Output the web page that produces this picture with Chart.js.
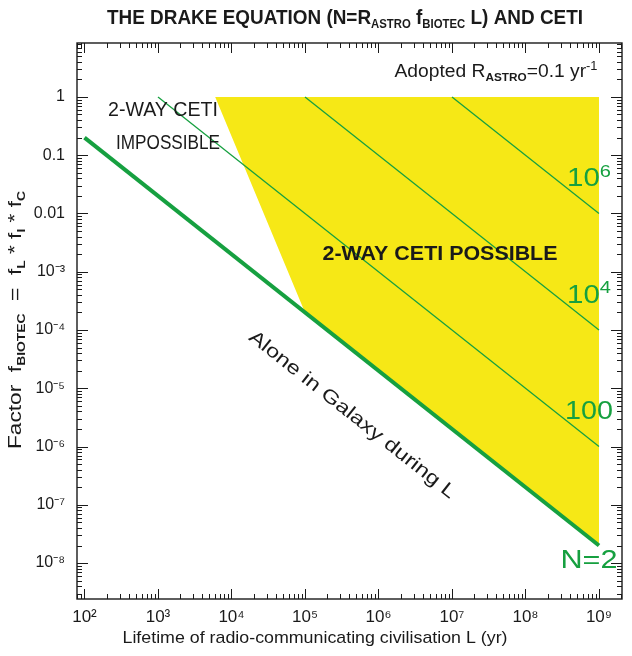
<!DOCTYPE html>
<html>
<head>
<meta charset="utf-8">
<script src="https://cdn.jsdelivr.net/npm/chart.js@4.4.0/dist/chart.umd.min.js"></script>
<style>html,body{margin:0;padding:0;background:#fff}</style>
</head>
<body>
<canvas id="drakeChart" width="632" height="656"></canvas>
<script>
// values: L in yr, f = fL * fI * fC
const xTickValues = [1e2, 1e3, 1e4, 1e5, 1e6, 1e7, 1e8, 1e9];
const xTickLabels = ['10²', '10³', '10⁴', '10⁵', '10⁶', '10⁷', '10⁸', '10⁹'];
const yTickValues = [1, 0.1, 0.01, 1e-3, 1e-4, 1e-5, 1e-6, 1e-7, 1e-8];
const yTickLabels = ['1', '0.1', '0.01', '10⁻³', '10⁻⁴', '10⁻⁵', '10⁻⁶', '10⁻⁷', '10⁻⁸'];

// constant-N lines (start and end points)
const lineNames = ['N=2', '100', '10⁴', '10⁶'];
const lineL = [[1e2, 1e9], [1e3, 1e9], [1e5, 1e9], [1e7, 1e9]];
const lineF = [[0.2, 2e-8], [1, 1e-6], [1, 1e-4], [1, 1e-2]];

// yellow "2-way CETI possible" region
const cetiL = [6e3, 1e9, 1e9, 1e5, 6e3];
const cetiF = [1, 1, 2e-8, 2e-4, 1];

const FONT = "'Liberation Sans', Arial, sans-serif";
const GREEN = '#16a040';
const YELLOW = '#f6e816';
const INK = '#1a1a1a';

const ctx = document.getElementById('drakeChart').getContext('2d');

const toPts = (xs, ys) => xs.map((v, i) => ({x: v, y: ys[i]}));

function logTicks(scale) {
    const ticks = [];
    const lo = Math.floor(Math.log10(scale.min));
    const hi = Math.ceil(Math.log10(scale.max));
    for (let e = lo; e <= hi; e++) {
        for (let m = 1; m <= 9; m++) {
            const v = m * Math.pow(10, e);
            if (v >= scale.min && v <= scale.max) ticks.push({value: v, major: m === 1});
        }
    }
    scale.ticks = ticks;
}

const labelFor = (values, labels) => (v) => {
    const i = values.findIndex(t => Math.abs(Math.log10(t) - Math.log10(v)) < 1e-6);
    return i < 0 ? '' : labels[i];
};

// text with sub/superscripts: parts = [[text, 0 normal | 1 sub | 2 sup], ...]
function drawRich(c, parts, x, y, size, opts = {}) {
    const weight = opts.weight || 'normal';
    const fontOf = k => k === 0 ? `${weight} ${size}px ${FONT}`
        : k === 1 ? `bold ${Math.round(size * 0.6)}px ${FONT}`
        : `${Math.round(size * 0.66)}px ${FONT}`;
    let w = 0;
    parts.forEach(([t, k]) => { c.font = fontOf(k); w += c.measureText(t).width; });
    const sx = opts.width ? opts.width / w : 1;
    c.save();
    c.translate(x, y);
    if (opts.rotate) c.rotate(opts.rotate);
    c.scale(sx, 1);
    c.fillStyle = opts.color || INK;
    c.textBaseline = 'middle';
    c.textAlign = 'left';
    let px = -w / 2;
    parts.forEach(([t, k]) => {
        c.font = fontOf(k);
        const dy = k === 1 ? size * 0.34 : k === 2 ? -size * 0.3 : 0;
        c.fillText(t, px, dy);
        px += c.measureText(t).width;
    });
    c.restore();
}

const frameAndText = {
    id: 'frameAndText',
    afterDraw(chart) {
        const c = chart.ctx;
        const a = chart.chartArea;
        const {x, y} = chart.scales;

        // frame with inward ticks on all four sides
        c.save();
        c.strokeStyle = INK;
        c.lineWidth = 1.4;
        c.strokeRect(a.left, a.top, a.right - a.left, a.bottom - a.top);
        c.lineWidth = 1;
        c.beginPath();
        x.ticks.forEach(t => {
            const px = Math.round(x.getPixelForValue(t.value)) + 0.5;
            const len = t.major ? 10 : 5;
            c.moveTo(px, a.bottom); c.lineTo(px, a.bottom - len);
            c.moveTo(px, a.top); c.lineTo(px, a.top + len);
        });
        y.ticks.forEach(t => {
            const py = Math.round(y.getPixelForValue(t.value)) + 0.5;
            const len = t.major ? 11 : 5;
            c.moveTo(a.left, py); c.lineTo(a.left + len, py);
            c.moveTo(a.right, py); c.lineTo(a.right - len, py);
        });
        c.stroke();
        c.restore();

        // titles
        drawRich(c, [['THE DRAKE EQUATION (N=R', 0], ['ASTRO', 1], [' f', 0], ['BIOTEC', 1], [' L) AND CETI', 0]],
            345, 18, 20, {weight: 'bold', width: 476});
        drawRich(c, [['Lifetime of radio-communicating civilisation L (yr)', 0]], 315, 638, 17, {width: 385});
        drawRich(c, [['Factor  f', 0], ['BIOTEC', 1], ['  =  f', 0], ['L', 1], [' * f', 0], ['I', 1], [' * f', 0], ['C', 1]],
            16, 320, 18, {rotate: -Math.PI / 2, width: 258});
        drawRich(c, [['Adopted R', 0], ['ASTRO', 1], ['=0.1 yr', 0], ['-1', 2]], 496, 72, 18, {width: 203});

        // region labels
        drawRich(c, [['2-WAY CETI', 0]], 163, 110, 20, {width: 110});
        drawRich(c, [['IMPOSSIBLE', 0]], 168, 143, 20, {width: 104});
        drawRich(c, [['2-WAY CETI POSSIBLE', 0]], 440, 254, 20, {weight: 'bold', width: 235});

        // text along the N=2 line
        const x0 = x.getPixelForValue(lineL[0][0]), y0 = y.getPixelForValue(lineF[0][0]);
        const x1 = x.getPixelForValue(lineL[0][1]), y1 = y.getPixelForValue(lineF[0][1]);
        const ang = Math.atan2(y1 - y0, x1 - x0);
        drawRich(c, [['Alone in Galaxy during L', 0]], 352, 415, 19, {rotate: ang, width: 258});

        // N labels near line ends
        const labelWidths = [57, 48, 44, 44];
        lineNames.forEach((n, i) => {
            const ex = x.getPixelForValue(lineL[i][1]);
            const ey = y.getPixelForValue(lineF[i][1]);
            const parts = n.startsWith('10') && n !== '100'
                ? [['10', 0], [n.slice(2) === '⁴' ? '4' : '6', 2]]
                : [[n, 0]];
            drawRich(c, parts, ex - 10, ey + (i === 0 ? 16 : -34), 25, {color: GREEN, width: labelWidths[i]});
        });
    }
};

const thinLine = (i) => ({
    label: 'N=' + lineNames[i],
    data: toPts(lineL[i], lineF[i]),
    showLine: true,
    borderColor: GREEN,
    borderWidth: i === 0 ? 4 : 1.3,
    pointRadius: 0,
    order: 1
});

new Chart(ctx, {
    type: 'scatter',
    data: {
        datasets: [
            thinLine(0), thinLine(1), thinLine(2), thinLine(3),
            {
                label: '2-way CETI possible',
                data: toPts(cetiL, cetiF),
                showLine: true,
                fill: 'shape',
                backgroundColor: YELLOW,
                borderColor: YELLOW,
                borderWidth: 0,
                pointRadius: 0,
                order: 5
            }
        ]
    },
    options: {
        responsive: false,
        animation: false,
        devicePixelRatio: 1,
        layout: {padding: {top: 43, right: 10, left: 0, bottom: 0}},
        plugins: {legend: {display: false}, tooltip: {enabled: false}},
        scales: {
            x: {
                type: 'logarithmic',
                min: Math.pow(10, 1.898),
                max: Math.pow(10, 9.313),
                afterBuildTicks: logTicks,
                afterFit: s => { s.height = 57; },
                grid: {display: false, drawTicks: false},
                border: {display: false},
                ticks: {
                    autoSkip: false, maxRotation: 0, padding: 8, color: INK,
                    font: {family: FONT, size: 17},
                    callback: labelFor(xTickValues, xTickLabels)
                }
            },
            y: {
                type: 'logarithmic',
                min: Math.pow(10, -8.617),
                max: Math.pow(10, 0.926),
                afterBuildTicks: logTicks,
                afterFit: s => { s.width = 77; },
                grid: {display: false, drawTicks: false},
                border: {display: false},
                ticks: {
                    autoSkip: false, padding: 12, color: INK,
                    font: {family: FONT, size: 16},
                    callback: labelFor(yTickValues, yTickLabels)
                }
            }
        }
    },
    plugins: [frameAndText]
});
</script>
</body>
</html>
